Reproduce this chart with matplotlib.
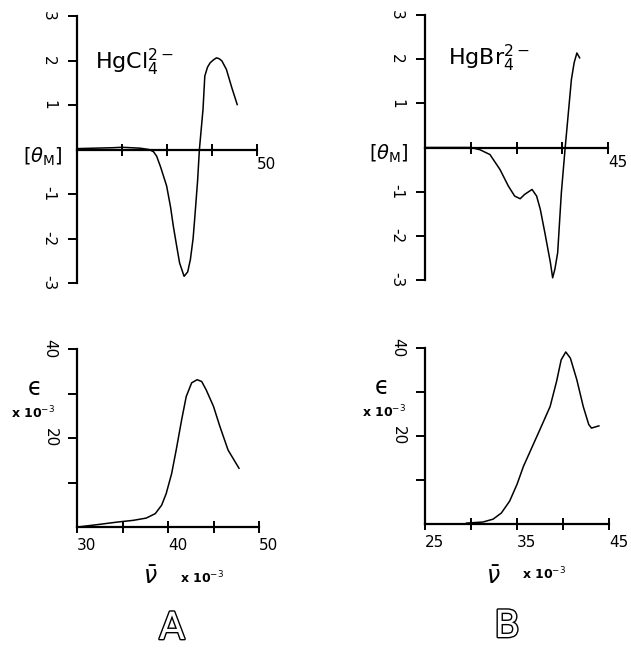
import matplotlib
matplotlib.use("Agg")
import matplotlib.pyplot as plt
import matplotlib.patheffects as pe

# ---------------- data ----------------
# CD spectrum, HgCl4 2- (panel A, top)
cd_a_x = [30, 32, 34, 35, 36, 37, 38, 38.5, 38.85, 39.3, 39.96, 40.4, 40.7, 41.1, 41.4, 41.9,
          42.3, 42.6, 42.9, 43.1, 43.4, 43.6, 44.0, 44.2, 44.5, 44.8, 45.2, 45.5, 45.8, 46.1,
          46.6, 47.2, 47.8]
cd_a_y = [0.02, 0.03, 0.04, 0.05, 0.04, 0.03, 0.0, -0.05, -0.15, -0.4, -0.82, -1.3, -1.72, -2.2,
          -2.55, -2.85, -2.75, -2.47, -2.0, -1.5, -0.7, 0.0, 0.9, 1.65, 1.85, 1.95, 2.02, 2.06,
          2.04, 1.99, 1.8, 1.39, 1.01]

# CD spectrum, HgBr4 2- (panel B, top)
cd_b_x = [25, 28, 30, 31.0, 32.1, 33.2, 34.1, 34.8, 35.4, 35.9, 36.7, 37.2, 37.6, 38.1, 38.7,
          38.95, 39.2, 39.5, 39.9, 40.3, 40.7, 41.0, 41.3, 41.6, 41.9]
cd_b_y = [0, 0, 0, -0.05, -0.16, -0.5, -0.87, -1.1, -1.16, -1.06, -0.95, -1.1, -1.4, -1.93, -2.6,
          -2.95, -2.75, -2.38, -1.03, -0.05, 0.86, 1.54, 1.92, 2.14, 2.03]

# absorption spectrum, panel A (bottom)
uv_a_x = [30.1, 32.5, 34.4, 36.2, 37.6, 38.6, 39.3, 39.8, 40.4, 40.9, 41.5, 42.0, 42.6, 43.2,
          43.7, 44.2, 45.0, 45.7, 46.6, 47.8]
uv_a_y = [0, 0.6, 1.1, 1.5, 2.0, 3.0, 4.9, 7.5, 12.0, 17.3, 24.1, 29.3, 32.4, 33.1, 32.7, 30.8,
          27.1, 22.6, 17.3, 13.2]

# absorption spectrum, panel B (bottom)
uv_b_x = [29.5, 31.3, 32.4, 33.3, 34.2, 35.0, 35.7, 36.6, 37.5, 38.6, 39.3, 39.8, 40.3, 40.8,
          41.5, 42.2, 42.8, 43.1, 43.9]
uv_b_y = [0.2, 0.45, 1.1, 2.5, 5.2, 9.0, 13.1, 17.3, 21.5, 26.7, 32.4, 37.3, 39.1, 37.7, 32.8,
          26.7, 22.6, 21.8, 22.3]

cd_yticks = [-3, -2, -1, 1, 2, 3]
cd_yticklabels = ['-3', '-2', '-1', '1', '2', '3']
cd_a_xticks = [30, 35, 40, 45, 50]
cd_a_xticklabels = ['', '', '', '', '50']
cd_b_xticks = [25, 30, 35, 40, 45]
cd_b_xticklabels = ['', '', '', '', '45']
uv_yticks = [10, 20, 30, 40]
uv_yticklabels = ['', '20', '', '40']
uv_a_xticks = [30, 35, 40, 45, 50]
uv_a_xticklabels = ['30', '', '40', '', '50']
uv_b_xticks = [25, 30, 35, 40, 45]
uv_b_xticklabels = ['25', '', '35', '', '45']

W, H = 631, 648
fig = plt.figure(figsize=(W / 100, H / 100), dpi=100)


def rect(x0, x1, ytop, ybot):
    return [x0 / W, 1 - ybot / H, (x1 - x0) / W, (ybot - ytop) / H]


def style(ax):
    for s in ('top', 'right'):
        ax.spines[s].set_visible(False)
    ax.spines['left'].set_linewidth(1.6)
    ax.spines['bottom'].set_linewidth(1.6)
    ax.patch.set_alpha(0)


def cd_panel(pos, x, y, xlim, xticks, xticklabels):
    ax = fig.add_axes(pos)
    style(ax)
    ax.spines['bottom'].set_position(('data', 0))
    ax.plot(x, y, color='black', lw=1.1)
    ax.set_xlim(*xlim)
    ax.set_ylim(-3, 3)
    ax.set_yticks(cd_yticks)
    ax.set_yticklabels(cd_yticklabels, rotation=-90, va='center', ha='center', fontsize=11)
    ax.tick_params(axis='y', direction='out', length=6.5, width=1.4, pad=14)
    ax.set_xticks(xticks)
    ax.set_xticklabels(xticklabels, fontsize=11, ha='left')
    ax.tick_params(axis='x', direction='inout', length=9, width=1.4, pad=1)
    return ax


def uv_panel(pos, x, y, xlim, xticks, xticklabels):
    ax = fig.add_axes(pos)
    style(ax)
    ax.plot(x, y, color='black', lw=1.1)
    ax.set_xlim(*xlim)
    ax.set_ylim(0, 40)
    ax.set_yticks(uv_yticks)
    ax.set_yticklabels(uv_yticklabels, rotation=-90, va='center', ha='center', fontsize=11)
    ax.tick_params(axis='y', direction='out', length=6.5, width=1.4, pad=13)
    ax.set_xticks(xticks)
    ax.set_xticklabels(xticklabels, fontsize=11, ha='left')
    ax.tick_params(axis='x', direction='inout', length=8, width=1.4, pad=4)
    return ax


cd_panel(rect(77, 257, 16, 283), cd_a_x, cd_a_y, (30, 50), cd_a_xticks, cd_a_xticklabels)
cd_panel(rect(425, 608, 15, 280), cd_b_x, cd_b_y, (25, 45), cd_b_xticks, cd_b_xticklabels)
uv_panel(rect(77, 259, 349, 527), uv_a_x, uv_a_y, (30, 50), uv_a_xticks, uv_a_xticklabels)
uv_panel(rect(425, 609, 348, 524), uv_b_x, uv_b_y, (25, 45), uv_b_xticks, uv_b_xticklabels)


def ftext(px, py, s, **kw):
    fig.text(px / W, 1 - py / H, s, **kw)


ftext(95, 62, r'HgCl$_4^{2-}$', fontsize=16, ha='left', va='center')
ftext(448, 58, r'HgBr$_4^{2-}$', fontsize=16, ha='left', va='center')

theta = r'$\left[\theta_{\mathrm{M}}\right]$'
ftext(43, 157, theta, fontsize=14, ha='center', va='center')
ftext(389, 154, theta, fontsize=14, ha='center', va='center')

ftext(35, 388, '\u03f5', fontsize=17, ha='center', va='center')
ftext(382, 387, '\u03f5', fontsize=17, ha='center', va='center')
ftext(33, 413, r'x 10$^{-3}$', fontsize=9, ha='center', va='center', fontweight='bold')
ftext(384, 412, r'x 10$^{-3}$', fontsize=9, ha='center', va='center', fontweight='bold')

ftext(150, 577, r'$\bar{\nu}$', fontsize=17, ha='center', va='center')
ftext(493, 577, r'$\bar{\nu}$', fontsize=17, ha='center', va='center')
ftext(202, 578, r'x 10$^{-3}$', fontsize=9, ha='center', va='center', fontweight='bold')
ftext(544, 574, r'x 10$^{-3}$', fontsize=9, ha='center', va='center', fontweight='bold')

outline = [pe.Stroke(linewidth=2.0, foreground='black'), pe.Normal()]
ftext(172, 629, 'A', fontsize=27, ha='center', va='center', color='white', path_effects=outline)
ftext(507, 627, 'B', fontsize=27, ha='center', va='center', color='white', path_effects=outline)

fig.savefig('out.png', dpi=100)
